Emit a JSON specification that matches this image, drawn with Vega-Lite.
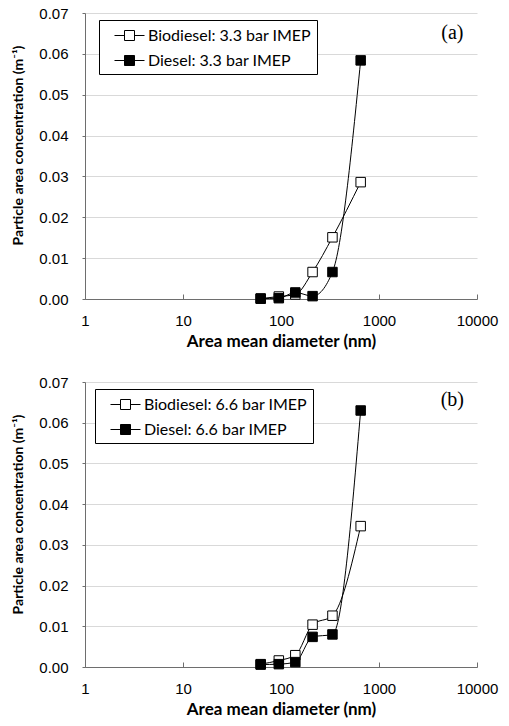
{
  "$schema": "https://vega.github.io/schema/vega-lite/v6.json",
  "background": "white",
  "padding": {"left": 11, "top": 6, "right": 5, "bottom": 4},
  "datasets": {
    "a": [
      {"d": 62, "c": 0.0001, "s": "Biodiesel: 3.3 bar IMEP"},
      {"d": 95, "c": 0.0006, "s": "Biodiesel: 3.3 bar IMEP"},
      {"d": 140, "c": 0.0011, "s": "Biodiesel: 3.3 bar IMEP"},
      {"d": 210, "c": 0.0066, "s": "Biodiesel: 3.3 bar IMEP"},
      {"d": 335, "c": 0.0151, "s": "Biodiesel: 3.3 bar IMEP"},
      {"d": 650, "c": 0.0286, "s": "Biodiesel: 3.3 bar IMEP"},
      {"d": 62, "c": 0.0001, "s": "Diesel: 3.3 bar IMEP"},
      {"d": 95, "c": 0.0002, "s": "Diesel: 3.3 bar IMEP"},
      {"d": 140, "c": 0.0016, "s": "Diesel: 3.3 bar IMEP"},
      {"d": 210, "c": 0.0007, "s": "Diesel: 3.3 bar IMEP"},
      {"d": 335, "c": 0.0066, "s": "Diesel: 3.3 bar IMEP"},
      {"d": 650, "c": 0.0584, "s": "Diesel: 3.3 bar IMEP"}
    ],
    "b": [
      {"d": 62, "c": 0.0007, "s": "Biodiesel: 6.6 bar IMEP"},
      {"d": 95, "c": 0.0016, "s": "Biodiesel: 6.6 bar IMEP"},
      {"d": 140, "c": 0.0029, "s": "Biodiesel: 6.6 bar IMEP"},
      {"d": 210, "c": 0.0104, "s": "Biodiesel: 6.6 bar IMEP"},
      {"d": 335, "c": 0.0126, "s": "Biodiesel: 6.6 bar IMEP"},
      {"d": 650, "c": 0.0346, "s": "Biodiesel: 6.6 bar IMEP"},
      {"d": 62, "c": 0.0006, "s": "Diesel: 6.6 bar IMEP"},
      {"d": 95, "c": 0.0007, "s": "Diesel: 6.6 bar IMEP"},
      {"d": 140, "c": 0.0012, "s": "Diesel: 6.6 bar IMEP"},
      {"d": 210, "c": 0.0074, "s": "Diesel: 6.6 bar IMEP"},
      {"d": 335, "c": 0.0080, "s": "Diesel: 6.6 bar IMEP"},
      {"d": 650, "c": 0.0630, "s": "Diesel: 6.6 bar IMEP"}
    ]
  },
  "spacing": 26,
  "vconcat": [
    {
      "width": 392,
      "height": 286,
      "data": {"name": "a"},
      "layer": [
        {
          "mark": {"type": "line", "interpolate": "monotone", "color": "black", "strokeWidth": 1},
          "encoding": {
            "x": {"field": "d", "type": "quantitative", "scale": {"type": "log", "domain": [1, 10000], "nice": false}, "axis": {"values": [1, 10, 100, 1000, 10000], "format": "d", "title": "Area mean diameter (nm)", "grid": false, "tickSize": -5}},
            "y": {"field": "c", "type": "quantitative", "scale": {"domain": [0, 0.07], "nice": false}, "axis": {"values": [0, 0.01, 0.02, 0.03, 0.04, 0.05, 0.06, 0.07], "format": ".2f", "title": "Particle area concentration (m⁻¹)"}},
            "detail": {"field": "s"}
          }
        },
        {
          "mark": {"type": "point", "shape": "square", "filled": true, "size": 90, "stroke": "black", "strokeWidth": 1, "opacity": 1},
          "encoding": {
            "x": {"field": "d", "type": "quantitative"},
            "y": {"field": "c", "type": "quantitative"},
            "fill": {"field": "s", "type": "nominal", "scale": {"domain": ["Biodiesel: 3.3 bar IMEP", "Diesel: 3.3 bar IMEP"], "range": ["white", "black"]}, "legend": {"legendX": 14, "legendY": 7}}
          }
        },
        {
          "data": {"values": [{}]},
          "mark": {"type": "text", "text": "(a)", "font": "Liberation Serif", "fontSize": 20, "color": "black"},
          "encoding": {"x": {"datum": 5600}, "y": {"datum": 0.065}}
        }
      ]
    },
    {
      "width": 392,
      "height": 285,
      "data": {"name": "b"},
      "layer": [
        {
          "mark": {"type": "line", "interpolate": "monotone", "color": "black", "strokeWidth": 1},
          "encoding": {
            "x": {"field": "d", "type": "quantitative", "scale": {"type": "log", "domain": [1, 10000], "nice": false}, "axis": {"values": [1, 10, 100, 1000, 10000], "format": "d", "title": "Area mean diameter (nm)", "grid": false, "tickSize": -5}},
            "y": {"field": "c", "type": "quantitative", "scale": {"domain": [0, 0.07], "nice": false}, "axis": {"values": [0, 0.01, 0.02, 0.03, 0.04, 0.05, 0.06, 0.07], "format": ".2f", "title": "Particle area concentration (m⁻¹)"}},
            "detail": {"field": "s"}
          }
        },
        {
          "mark": {"type": "point", "shape": "square", "filled": true, "size": 90, "stroke": "black", "strokeWidth": 1, "opacity": 1},
          "encoding": {
            "x": {"field": "d", "type": "quantitative"},
            "y": {"field": "c", "type": "quantitative"},
            "fill": {"field": "s", "type": "nominal", "scale": {"domain": ["Biodiesel: 6.6 bar IMEP", "Diesel: 6.6 bar IMEP"], "range": ["white", "black"]}, "legend": {"legendX": 10, "legendY": 7}}
          }
        },
        {
          "data": {"values": [{}]},
          "mark": {"type": "text", "text": "(b)", "font": "Liberation Serif", "fontSize": 20, "color": "black"},
          "encoding": {"x": {"datum": 5600}, "y": {"datum": 0.0655}}
        }
      ]
    }
  ],
  "resolve": {"scale": {"fill": "independent"}, "legend": {"fill": "independent"}},
  "config": {
    "view": {"stroke": null},
    "axis": {
      "labelFont": "Liberation Sans",
      "labelFontSize": 15,
      "labelColor": "black",
      "titleFont": "Lato",
      "titleFontWeight": "bold",
      "titleFontSize": 16,
      "titleColor": "black",
      "domainColor": "#6e6e6e",
      "tickColor": "#6e6e6e",
      "gridColor": "#d9d9d9",
      "tickSize": 3,
      "labelPadding": 14,
      "labelFlush": false
    },
    "axisY": {"titlePadding": 13, "titleFontSize": 14, "titleY": 132},
    "axisX": {"titlePadding": 5, "labelPadding": 19, "titleFontSize": 17},
    "legend": {
      "orient": "none",
      "title": null,
      "direction": "vertical",
      "strokeColor": "black",
      "fillColor": "white",
      "padding": 5,
      "symbolType": "M-1.5,0H-0.5M0.5,0H1.5M-0.5,-0.5H0.5V0.5H-0.5Z",
      "symbolSize": 400,
      "symbolStrokeColor": "black",
      "symbolStrokeWidth": 1,
      "symbolOffset": 15,
      "labelOffset": 8,
      "rowPadding": 6,
      "labelLimit": 400,
      "labelFont": "Lato",
      "labelFontSize": 16,
      "labelColor": "black"
    }
  }
}
